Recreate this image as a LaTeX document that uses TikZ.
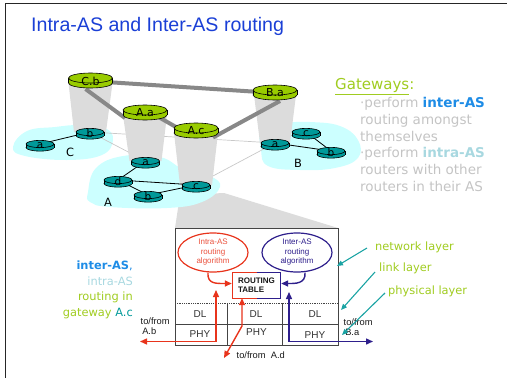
\documentclass[tikz,border=0pt]{standalone}
\usepackage{fontspec}
\setmainfont{Liberation Sans}
\newfontfamily\comic{DejaVu Sans}
\usetikzlibrary{arrows.meta,shapes.geometric}
\definecolor{tealr}{HTML}{009999}
\definecolor{gwgreen}{HTML}{99CC00}
\definecolor{blobc}{HTML}{CCFFFF}
\definecolor{conec}{HTML}{DCDCDC}
\definecolor{thickc}{HTML}{888888}
\definecolor{thinc}{HTML}{C8C8C8}
\definecolor{titleblue}{HTML}{1A3FD6}
\definecolor{txtgreen}{HTML}{A0CC20}
\definecolor{interblue}{HTML}{1E8CE6}
\definecolor{intracyan}{HTML}{A8D8E0}
\definecolor{lgray}{HTML}{C4C4C4}
\definecolor{redc}{HTML}{E8341C}
\definecolor{purc}{HTML}{2E1F8C}
\definecolor{tealarr}{HTML}{1AA3A3}
\definecolor{boxc}{HTML}{444444}
\newcommand\rtr[8]{%
 \begin{scope}[shift={(#1)}]
  \filldraw[fill=#6,line width=.6pt] (0,#5) ellipse[x radius=#3,y radius=#4];
  \fill[#6] (-#3,0) rectangle (#3,#5);
  \draw[line width=.6pt] (-#3,0) -- (-#3,#5) (#3,0) -- (#3,#5);
  \filldraw[fill=#6,line width=.6pt] (0,0) ellipse[x radius=#3,y radius=#4];
  \node[inner sep=0pt,font=\comic\fontsize{#8}{#8}\selectfont] (#1-l) at (0,#7) {#2};
 \end{scope}}
\newcommand\trouter[2]{\rtr{#1}{#2}{14}{3.6}{3.5}{tealr}{2}{10.5}}
\newcommand\grouter[2]{\rtr{#1}{#2}{22}{5}{5}{gwgreen}{3}{11}}
\tikzset{
  blob/.style={fill=blobc},
  cone/.style={fill=conec},
  thinl/.style={draw=thinc,line width=0.7pt},
  blkl/.style={draw=black,line width=0.8pt},
  thickl/.style={draw=thickc,line width=4pt},
  cmc/.style={font=\comic\fontsize{11.4}{11.4}\selectfont,inner sep=0pt},
  gwt/.style={font=\comic\fontsize{13.5}{13.5}\selectfont,inner sep=0pt,anchor=base west,text=lgray},
  lft/.style={font=\comic\fontsize{11.4}{11.4}\selectfont,inner sep=0pt,anchor=base east},
  boxt/.style={font=\fontsize{10}{10}\selectfont,text=black!80,inner sep=0pt},
  small/.style={font=\fontsize{9.3}{10}\selectfont,text=black!90,inner sep=0pt,align=left},
  redl/.style={draw=redc,line width=1.4pt},
  purl/.style={draw=purc,line width=1.4pt},
  tip/.style={-{Triangle[length=7pt,width=6pt]}},
  tips/.style={{Triangle[length=7pt,width=6pt]}-{Triangle[length=7pt,width=6pt]}},
  tarr/.style={draw=tealarr,line width=1.1pt,-{Triangle[length=6pt,width=5pt]}},
}
\begin{document}
\begin{tikzpicture}[x=1pt,y=-1pt]
\useasboundingbox (0,0) rectangle (507,378);
\draw[line width=1pt,black!85] (5,378) -- (5,3) -- (507,3);
\node[anchor=base west,inner sep=0pt,text=titleblue,font=\fontsize{19.6}{20}\selectfont] (title) at (31,31.5) {Intra-AS and Inter-AS routing};

% router positions
\coordinate (Ca) at (40,144);
\coordinate (Cb) at (90,132);
\coordinate (Aa) at (145.5,161);
\coordinate (Ad) at (118,180);
\coordinate (Ab) at (148,195);
\coordinate (Ac) at (196,185);
\coordinate (Ba) at (275,143);
\coordinate (Bc) at (306,132);
\coordinate (Bb) at (331,151);
\coordinate (GCb) at (90.5,78);
\coordinate (GAa) at (145,110);
\coordinate (GAc) at (196,128);
\coordinate (GBa) at (275,90);

% wedge to the box
\fill[cone] (180,195) -- (224,193) -- (338,228) -- (175,228) -- cycle;

% AS blobs
\fill[blob] plot[smooth cycle,tension=0.7] coordinates {(13,147) (27,131) (55,127) (80,125) (105,128) (113,140) (102,155) (67,160) (25,156)};
\fill[blob] plot[smooth cycle,tension=0.7] coordinates {(88,192) (96,168) (123,156) (160,157) (183,169) (210,176) (220,187) (202,202) (167,208) (110,207) (90,202)};
\fill[blob] plot[smooth cycle,tension=0.7] coordinates {(262,127) (285,123) (310,122) (340,126) (358,140) (358,158) (335,168) (300,170) (268,166) (261,150)};

% thin links between ASes
\draw[thinl] (Cb) -- (Aa);
\draw[thinl] (Cb) -- (Ba);
\draw[thinl] (Ac) -- (Ba);

% cones
\fill[cone] ([xshift=-22pt,yshift=-5pt]GCb) -- ([xshift=22pt,yshift=-5pt]GCb) -- ([xshift=16pt]Cb) -- ([xshift=-16pt]Cb) -- cycle;
\fill[cone] ([xshift=-22pt,yshift=-5pt]GAa) -- ([xshift=22pt,yshift=-5pt]GAa) -- ([xshift=16pt]Aa) -- ([xshift=-16pt]Aa) -- cycle;
\fill[cone] ([xshift=-22pt,yshift=-5pt]GAc) -- ([xshift=22pt,yshift=-5pt]GAc) -- ([xshift=16pt]Ac) -- ([xshift=-16pt]Ac) -- cycle;
\fill[cone] ([xshift=-21pt,yshift=-5pt]GBa) -- ([xshift=21pt,yshift=-5pt]GBa) -- ([xshift=15pt]Ba) -- ([xshift=-15pt]Ba) -- cycle;

% intra-AS links
\draw[blkl] (Ca) -- (Cb);
\draw[blkl] (Aa) -- (Ad);
\draw[blkl] (Ad) -- (Ac);
\draw[blkl] (Ad) -- (Ab);
\draw[blkl] (Ab) -- (Ac);
\draw[blkl] (Ba) -- (Bb);
\draw[blkl] (Bc) -- (Bb);

% inter-AS thick links
\draw[thickl] ([yshift=-3pt]GCb) -- ([yshift=-3pt]GBa);
\draw[thickl] ([xshift=-5pt,yshift=-11pt]GCb) -- ([xshift=-20pt,yshift=-8pt]GAa);
\draw[thickl] ([xshift=10pt,yshift=-5pt]GAa) -- ([xshift=-13pt,yshift=-3pt]GAc);
\draw[thickl] ([xshift=17pt,yshift=-9.5pt]GAc) -- ([xshift=5pt,yshift=-11pt]GBa);

% routers
\grouter{GCb}{C.b}
\grouter{GAa}{A.a}
\grouter{GAc}{A.c}
\grouter{GBa}{B.a}
\trouter{Ca}{a}
\trouter{Cb}{b}
\trouter{Aa}{a}
\trouter{Ad}{d}
\trouter{Ab}{b}
\trouter{Ac}{c}
\trouter{Ba}{a}
\trouter{Bc}{c}
\trouter{Bb}{b}
\node[cmc] (labC) at (70,152) {C};
\node[cmc] (labA) at (108,202) {A};
\node[cmc] (labB) at (298,163) {B};

% Gateways text
\node[anchor=base west,inner sep=0pt,text=txtgreen,font=\comic\fontsize{15}{15}\selectfont] (gw) at (335,89.5) {\underline{Gateways}:};
\node[gwt] (g1) at (360,107.5) {·perform \textcolor{interblue}{\textbf{inter-AS}}};
\node[gwt] (g2) at (360,124.3) {routing amongst};
\node[gwt] (g3) at (360,141.1) {themselves};
\node[gwt] (g4) at (360,157.9) {·perform \textcolor{intracyan}{\textbf{intra-AS}}};
\node[gwt] (g5) at (360,174.7) {routers with other};
\node[gwt] (g6) at (360,191.5) {routers in their AS};

% left labels
\node[lft,text=interblue] (l1) at (133,269.5) {\textbf{inter-AS},};
\node[lft,text=intracyan] (l2) at (133,285) {intra-AS};
\node[lft,text=txtgreen] (l3) at (133,300.5) {routing in};
\node[lft,text=txtgreen] (l4) at (133,316) {gateway \textcolor{tealr}{A.c}};

% box
\node[draw=boxc,fill=white,line width=0.8pt,minimum width=163pt,minimum height=117pt,inner sep=0pt] (box) at (256.5,286.5) {};
\draw[boxc,line width=0.8pt,densely dotted] (175,303) -- (338,303);
\draw[boxc,line width=0.8pt] (175,324) -- (338,324);
\draw[boxc,line width=0.8pt] (227,303) -- (227,345);
\draw[boxc,line width=0.8pt] (282,303) -- (282,345);
\node[boxt] (dl1) at (200,314) {DL};
\node[boxt] (dl2) at (256,314) {DL};
\node[boxt] (dl3) at (315,314) {DL};
\node[boxt] (ph1) at (200,334) {PHY};
\node[boxt] (ph2) at (256.5,332) {PHY};
\node[boxt] (ph3) at (315,335.5) {PHY};

\node[ellipse,draw=redc,line width=1.2pt,minimum width=70pt,minimum height=39pt,inner sep=0pt,align=center,text=redc!85,font=\fontsize{8}{9.5}\selectfont] (intra) at (213,252.5) {Intra-AS\\routing\\algorithm};
\node[ellipse,draw=purc,line width=1.2pt,minimum width=70pt,minimum height=39pt,inner sep=0pt,align=center,text=purc,font=\fontsize{8}{9.5}\selectfont] (inter) at (297,252.5) {Inter-AS\\routing\\algorithm};

\node[minimum width=47pt,minimum height=25pt,inner sep=0pt,align=left,font=\bfseries\fontsize{8}{9.3}\selectfont,text=black!90] (rt) at (256.5,285.5) {ROUTING\\TABLE};
\draw[redc,line width=1.3pt] (rt.north) -- (rt.north west) -- (rt.south west) -- (rt.south);
\draw[purc,line width=1.3pt] (rt.north) -- (rt.north east) -- (rt.south east) -- (rt.south);

\draw[redl,tip] ([xshift=-5pt]intra.south) .. controls (207,284) and (216,283.5) .. ([xshift=-1pt,yshift=2pt]rt.west);
\draw[purl,tip] ([xshift=8pt]inter.south) .. controls (306,284) and (295,283.5) .. ([xshift=1pt,yshift=2pt]rt.east);

% external ports
\coordinate (redup) at (216,290);
\coordinate (toAb) at (140,341.5);
\coordinate (toAd) at (224,358);
\coordinate (purup) at (289,292);
\coordinate (toBa) at (373,341.5);
\draw[redl,tips] (redup) -- (216,341.5) -- (toAb);
\draw[redl,tips] ([xshift=-14.5pt]rt.south) -- (242,326) -- (toAd);
\draw[purl,tips] (purup) -- (289,341.5) -- (toBa);

\node[small,anchor=west] (tAb) at (140.5,326) {to/from\\\,A.b};
\node[small,anchor=west] (tBa) at (343.5,327) {to/from\\\,B.a};
\node[small,anchor=west] (tAd) at (236.5,355) {to/from\ \ A.d};

% layer labels
\node[cmc,anchor=west,text=txtgreen] (nl) at (375,247) {network layer};
\node[cmc,anchor=west,text=txtgreen] (ll) at (379,268) {link layer};
\node[cmc,anchor=west,text=txtgreen] (pl) at (388,291) {physical layer};
\coordinate (nlA) at (367,248);
\coordinate (llA) at (375,272);
\coordinate (plA) at (385,293);
\coordinate (nlB) at (337,266);
\coordinate (llB) at (341,310);
\coordinate (plB) at (342,335);
\draw[tarr] (nlA) -- (nlB);
\draw[tarr] (llA) -- (llB);
\draw[tarr] (plA) -- (plB);
\end{tikzpicture}
\end{document}
